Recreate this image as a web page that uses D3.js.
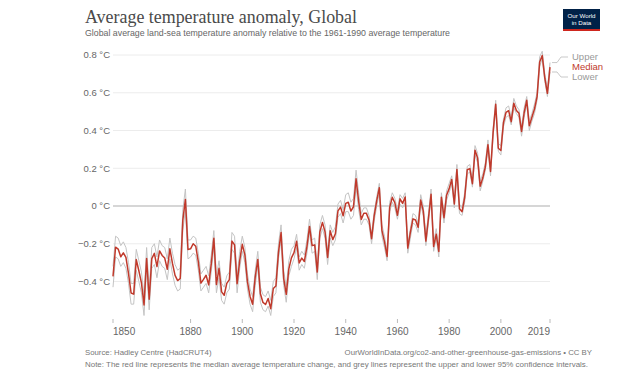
<!DOCTYPE html>
<html>
<head>
<meta charset="utf-8">
<script src="https://cdn.jsdelivr.net/npm/d3@7/dist/d3.min.js"></script>
<style>
  html, body { margin: 0; padding: 0; background: #fff; }
  svg { display: block; }
</style>
</head>
<body>
<svg id="chart" width="640" height="380"></svg>
<script>
const years = d3.range(1850, 2020);

const median = [
-0.373,-0.218,-0.228,-0.269,-0.248,-0.272,-0.358,-0.461,-0.467,-0.284,
-0.343,-0.407,-0.524,-0.278,-0.494,-0.279,-0.251,-0.321,-0.238,-0.262,
-0.276,-0.335,-0.227,-0.304,-0.368,-0.395,-0.384,-0.075,0.035,-0.230,
-0.227,-0.200,-0.213,-0.296,-0.409,-0.389,-0.367,-0.418,-0.307,-0.171,
-0.416,-0.330,-0.455,-0.473,-0.410,-0.390,-0.186,-0.206,-0.412,-0.289,
-0.203,-0.259,-0.402,-0.479,-0.520,-0.377,-0.283,-0.465,-0.511,-0.522,
-0.490,-0.544,-0.437,-0.424,-0.244,-0.141,-0.383,-0.468,-0.333,-0.275,
-0.247,-0.187,-0.302,-0.276,-0.294,-0.215,-0.108,-0.210,-0.206,-0.350,
-0.137,-0.087,-0.137,-0.273,-0.131,-0.178,-0.147,-0.026,-0.006,-0.052,
0.014,0.020,-0.027,-0.004,0.144,0.025,-0.071,-0.038,-0.039,-0.074,
-0.173,-0.052,0.028,0.097,-0.129,-0.190,-0.267,-0.007,0.046,0.017,
-0.049,0.038,0.014,0.048,-0.223,-0.140,-0.068,-0.074,-0.113,0.032,
-0.027,-0.186,-0.065,0.062,-0.214,-0.149,-0.241,0.047,-0.062,0.057,
0.092,0.140,0.011,0.194,-0.014,-0.030,0.045,0.192,0.198,0.118,
0.296,0.254,0.105,0.148,0.208,0.325,0.183,0.390,0.539,0.306,
0.294,0.441,0.496,0.505,0.447,0.545,0.506,0.491,0.395,0.494,
0.560,0.425,0.470,0.514,0.579,0.763,0.797,0.677,0.597,0.736
];

const upper = [
-0.32,-0.16,-0.17,-0.21,-0.19,-0.22,-0.30,-0.41,-0.41,-0.23,
-0.29,-0.35,-0.47,-0.22,-0.44,-0.22,-0.20,-0.27,-0.18,-0.21,
-0.22,-0.28,-0.17,-0.25,-0.31,-0.34,-0.33,-0.02,0.09,-0.18,
-0.18,-0.16,-0.17,-0.25,-0.36,-0.34,-0.32,-0.37,-0.26,-0.13,
-0.37,-0.29,-0.41,-0.43,-0.37,-0.35,-0.14,-0.16,-0.37,-0.24,
-0.16,-0.22,-0.36,-0.44,-0.48,-0.34,-0.24,-0.43,-0.47,-0.48,
-0.45,-0.50,-0.40,-0.38,-0.20,-0.10,-0.34,-0.43,-0.29,-0.23,
-0.21,-0.15,-0.27,-0.24,-0.26,-0.18,-0.07,-0.18,-0.17,-0.32,
-0.10,-0.05,-0.10,-0.24,-0.10,-0.14,-0.11,0.01,0.03,-0.02,
0.06,0.07,0.02,0.04,0.19,0.07,-0.04,-0.01,-0.01,-0.05,
-0.15,-0.03,0.05,0.12,-0.10,-0.16,-0.24,0.02,0.07,0.04,
-0.02,0.06,0.04,0.07,-0.20,-0.12,-0.04,-0.05,-0.09,0.06,
0.00,-0.16,-0.04,0.09,-0.19,-0.12,-0.22,0.07,-0.04,0.08,
0.12,0.16,0.03,0.22,0.01,-0.01,0.07,0.21,0.22,0.14,
0.32,0.28,0.13,0.17,0.23,0.35,0.20,0.41,0.56,0.33,
0.32,0.46,0.52,0.53,0.47,0.57,0.53,0.51,0.42,0.52,
0.58,0.45,0.49,0.54,0.60,0.79,0.82,0.70,0.62,0.76
];

const lower = [
-0.43,-0.27,-0.28,-0.32,-0.30,-0.33,-0.41,-0.52,-0.52,-0.34,
-0.40,-0.46,-0.58,-0.33,-0.55,-0.33,-0.31,-0.38,-0.29,-0.32,
-0.33,-0.39,-0.28,-0.36,-0.42,-0.45,-0.44,-0.13,-0.02,-0.28,
-0.27,-0.25,-0.26,-0.34,-0.45,-0.43,-0.41,-0.46,-0.35,-0.22,
-0.46,-0.38,-0.50,-0.52,-0.46,-0.44,-0.23,-0.25,-0.46,-0.33,
-0.24,-0.30,-0.44,-0.52,-0.56,-0.42,-0.32,-0.51,-0.55,-0.56,
-0.53,-0.58,-0.48,-0.46,-0.28,-0.18,-0.42,-0.51,-0.37,-0.32,
-0.28,-0.22,-0.34,-0.31,-0.33,-0.25,-0.14,-0.25,-0.24,-0.39,
-0.17,-0.12,-0.17,-0.31,-0.17,-0.21,-0.18,-0.06,-0.04,-0.09,
-0.03,-0.03,-0.07,-0.05,0.10,-0.02,-0.10,-0.07,-0.07,-0.10,
-0.20,-0.08,0.00,0.07,-0.16,-0.22,-0.29,-0.03,0.02,-0.01,
-0.07,0.01,-0.01,0.02,-0.25,-0.17,-0.09,-0.10,-0.14,0.01,
-0.05,-0.21,-0.09,0.04,-0.24,-0.17,-0.27,0.02,-0.09,0.03,
0.07,0.12,-0.01,0.17,-0.04,-0.05,0.02,0.17,0.18,0.10,
0.27,0.23,0.08,0.13,0.19,0.30,0.16,0.37,0.52,0.29,
0.27,0.42,0.47,0.48,0.43,0.52,0.49,0.47,0.37,0.47,
0.54,0.40,0.45,0.49,0.56,0.74,0.78,0.66,0.58,0.71
];

const yTicks = [-0.4, -0.2, 0, 0.2, 0.4, 0.6, 0.8];
const xTicks = [1850, 1880, 1900, 1920, 1940, 1960, 1980, 2000, 2019];
const seriesNames = ["Upper", "Median", "Lower"];

const svg = d3.select("#chart");
const RED = "#c0392b";
const GREY = "#c4c4c4";

const x = d3.scaleLinear().domain([1850, 2019]).range([113, 550]);
const y = d3.scaleLinear().domain([-0.6, 0.8]).range([319.25, 55]);

// Title & subtitle
svg.append("text").attr("x", 85).attr("y", 23)
  .attr("font-family", "'Liberation Serif', 'DejaVu Serif', serif")
  .attr("font-size", 18).attr("fill", "#4a4a4a")
  .attr("textLength", 272).attr("lengthAdjust", "spacingAndGlyphs")
  .text("Average temperature anomaly, Global");
svg.append("text").attr("x", 85).attr("y", 36)
  .attr("font-family", "'Liberation Sans', Arial, sans-serif")
  .attr("font-size", 9.2).attr("fill", "#666")
  .attr("textLength", 365).attr("lengthAdjust", "spacingAndGlyphs")
  .text("Global average land-sea temperature anomaly relative to the 1961-1990 average temperature");

// Logo
const logo = svg.append("g");
logo.append("rect").attr("x", 563).attr("y", 9).attr("width", 37).attr("height", 22).attr("fill", "#002147");
logo.append("rect").attr("x", 563).attr("y", 29).attr("width", 37).attr("height", 2).attr("fill", "#ce261e");
logo.append("text").attr("x", 581.5).attr("y", 17.5).attr("text-anchor", "middle")
  .attr("font-family", "'Liberation Sans', Arial, sans-serif").attr("font-size", 6.2).attr("fill", "#fff").text("Our World");
logo.append("text").attr("x", 581.5).attr("y", 25).attr("text-anchor", "middle")
  .attr("font-family", "'Liberation Sans', Arial, sans-serif").attr("font-size", 6.2).attr("fill", "#fff").text("in Data");

// Grid + y labels
const grid = svg.append("g");
yTicks.forEach(t => {
  grid.append("line")
    .attr("x1", 113).attr("x2", 550)
    .attr("y1", y(t)).attr("y2", y(t))
    .attr("stroke", t === 0 ? "#c8c8c8" : "#ececec")
    .attr("stroke-width", t === 0 ? 1.3 : 1);
  grid.append("text")
    .attr("x", 110).attr("y", y(t) + 3.3)
    .attr("text-anchor", "end")
    .attr("font-family", "'Liberation Sans', Arial, sans-serif")
    .attr("font-size", 9.5).attr("fill", "#666")
    .text((t === 0 ? "0" : d3.format(".1f")(t)) + " °C");
});

// X axis
const xaxis = svg.append("g");
xTicks.forEach((t, i) => {
  xaxis.append("line").attr("x1", x(t)).attr("x2", x(t)).attr("y1", 319).attr("y2", 323)
    .attr("stroke", "#bbb").attr("stroke-width", 1);
  xaxis.append("text")
    .attr("x", x(t)).attr("y", 334.5)
    .attr("text-anchor", i === 0 ? "start" : (i === xTicks.length - 1 ? "end" : "middle"))
    .attr("font-family", "'Liberation Sans', Arial, sans-serif")
    .attr("font-size", 10).attr("fill", "#666")
    .text(t);
});

// Lines
const line = d3.line().x((d, i) => x(years[i])).y(d => y(d));
svg.append("path").datum(upper).attr("d", line).attr("fill", "none").attr("stroke", GREY).attr("stroke-width", 1);
svg.append("path").datum(lower).attr("d", line).attr("fill", "none").attr("stroke", GREY).attr("stroke-width", 1);
svg.append("path").datum(median).attr("d", line).attr("fill", "none").attr("stroke", RED).attr("stroke-width", 1.5)
  .attr("stroke-linejoin", "round");

// Line labels
const last = years.length - 1;
const ends = [upper[last], median[last], lower[last]];
const labelY = [57, 67, 77];
seriesNames.forEach((name, i) => {
  const y0 = y(ends[i]);
  if (i !== 1) {
    svg.append("path")
      .attr("d", `M${x(2019) + 2},${y0} L${x(2019) + 7},${y0} L${x(2019) + 11},${labelY[i]} L${x(2019) + 18},${labelY[i]}`)
      .attr("fill", "none").attr("stroke", "#bbb").attr("stroke-width", 0.8);
  }
  svg.append("text").attr("x", 572).attr("y", labelY[i] + 3.3)
    .attr("font-family", "'Liberation Sans', Arial, sans-serif")
    .attr("font-size", 9.5)
    .attr("fill", i === 1 ? RED : "#999")
    .text(name);
});

// Footer
svg.append("text").attr("x", 85).attr("y", 355)
  .attr("font-family", "'Liberation Sans', Arial, sans-serif").attr("font-size", 7.8).attr("fill", "#777")
  .text("Source: Hadley Centre (HadCRUT4)");
svg.append("text").attr("x", 592).attr("y", 355).attr("text-anchor", "end")
  .attr("font-family", "'Liberation Sans', Arial, sans-serif").attr("font-size", 7.8).attr("fill", "#777")
  .text("OurWorldInData.org/co2-and-other-greenhouse-gas-emissions • CC BY");
svg.append("text").attr("x", 85).attr("y", 366.5)
  .attr("font-family", "'Liberation Sans', Arial, sans-serif").attr("font-size", 7.8).attr("fill", "#777")
  .attr("textLength", 503).attr("lengthAdjust", "spacingAndGlyphs")
  .text("Note: The red line represents the median average temperature change, and grey lines represent the upper and lower 95% confidence intervals.");
</script>
</body>
</html>
